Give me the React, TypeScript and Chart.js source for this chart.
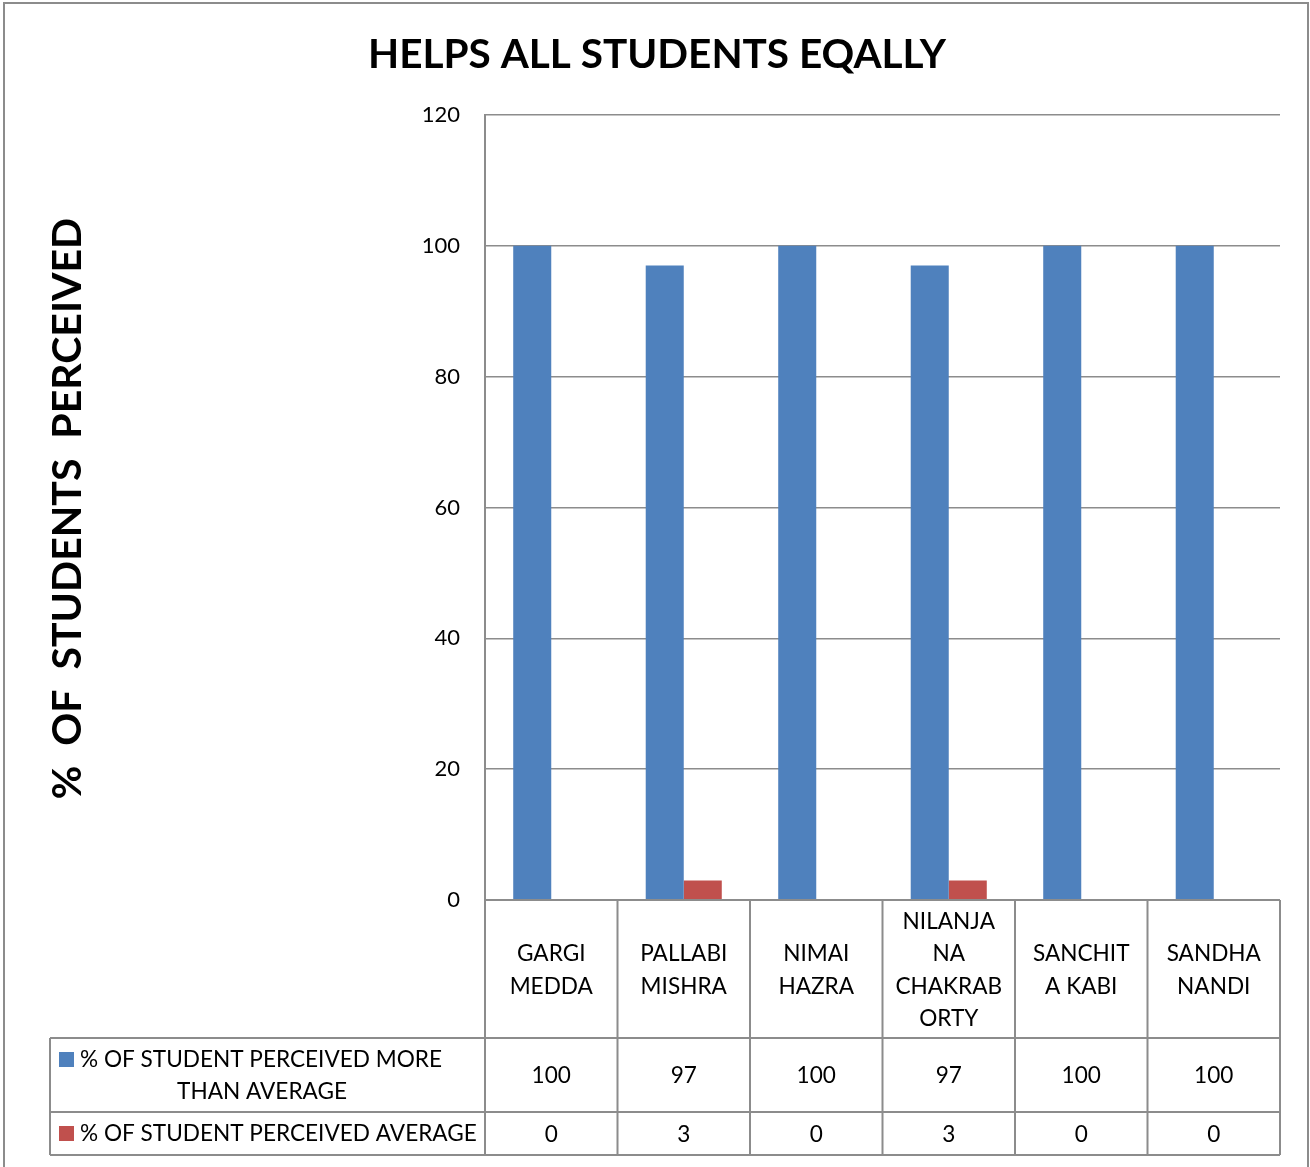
import React, { useEffect, useRef } from "react";
import { Chart, registerables } from "chart.js";

Chart.register(...registerables);

const students = [
	["GARGI", "MEDDA"],
	["PALLABI", "MISHRA"],
	["NIMAI", "HAZRA"],
	["NILANJA", "NA", "CHAKRAB", "ORTY"],
	["SANCHIT", "A KABI"],
	["SANDHA", "NANDI"],
];
const moreThanAverage = [100, 97, 100, 97, 100, 100];
const average = [0, 3, 0, 3, 0, 0];
const seriesNames = [
	["% OF STUDENT PERCEIVED MORE", "THAN AVERAGE"],
	["% OF STUDENT PERCEIVED AVERAGE"],
];
const chartTitle = "HELPS ALL STUDENTS EQALLY";
const axisTitle = "%  OF  STUDENTS  PERCEIVED";

const FONT = "Lato, 'Open Sans', sans-serif";
const LINE = "#8c8c8c";

// draws the title, rotated axis title, outer frame and the Excel-style data table
const tablePlugin = {
	id: "dataTable",
	afterDraw(chart: any) {
		const { ctx } = chart;
		const x = chart.scales.x;
		const y = chart.scales.y;
		const top = y.bottom;
		const headBottom = 1038;
		const row1Bottom = 1112;
		const row2Bottom = 1155;
		const legendLeft = 50;
		const colW = (x.right - x.left) / students.length;
		const colMid = (i: number) => x.getPixelForValue(i);

		ctx.save();

		// outer frame
		ctx.strokeStyle = "#8c8c8c";
		ctx.lineWidth = 2;
		ctx.strokeRect(4, 3, 1304, 1190);

		// title
		ctx.fillStyle = "#000";
		ctx.textAlign = "center";
		ctx.textBaseline = "middle";
		ctx.font = `bold 40.5px ${FONT}`;
		ctx.fillText(chartTitle, 657, 55);

		// y axis title
		ctx.save();
		ctx.translate(68, (y.top + y.bottom) / 2 + 1);
		ctx.rotate(-Math.PI / 2);
		ctx.font = `bold 41px ${FONT}`;
		ctx.fillText(axisTitle, 0, 0);
		ctx.restore();

		// table lines
		ctx.strokeStyle = LINE;
		ctx.lineWidth = 2;
		ctx.beginPath();
		ctx.moveTo(x.left, top);
		ctx.lineTo(x.right, top);
		ctx.moveTo(legendLeft, headBottom);
		ctx.lineTo(x.right, headBottom);
		ctx.moveTo(legendLeft, row1Bottom);
		ctx.lineTo(x.right, row1Bottom);
		ctx.moveTo(legendLeft, row2Bottom);
		ctx.lineTo(x.right, row2Bottom);
		ctx.moveTo(legendLeft, headBottom);
		ctx.lineTo(legendLeft, row2Bottom);
		for (let i = 0; i <= students.length; i++) {
			const px = x.left + i * colW;
			ctx.moveTo(px, i === 0 ? y.top : top);
			ctx.lineTo(px, row2Bottom);
		}
		ctx.stroke();

		// category labels
		ctx.fillStyle = "#000";
		ctx.font = `22.6px ${FONT}`;
		const lh = 32.5;
		students.forEach((lines, i) => {
			const cy = (top + headBottom) / 2 + 1;
			lines.forEach((t, j) => {
				ctx.fillText(t, colMid(i), cy + (j - (lines.length - 1) / 2) * lh);
			});
		});

		// values
		const rows = [moreThanAverage, average];
		const rowMid = [(headBottom + row1Bottom) / 2, (row1Bottom + row2Bottom) / 2];
		rows.forEach((vals, r) => {
			vals.forEach((v, i) => {
				ctx.fillText(String(v), colMid(i), rowMid[r] + 1);
			});
		});

		// legend cells
		const datasets = chart.data.datasets;
		ctx.fillStyle = datasets[0].backgroundColor;
		ctx.fillRect(59, 1052, 15, 15);
		ctx.fillStyle = "#000";
		ctx.textAlign = "left";
		ctx.fillText(seriesNames[0][0], 80, 1060);
		ctx.textAlign = "center";
		ctx.fillText(seriesNames[0][1], 262, 1092);

		ctx.fillStyle = datasets[1].backgroundColor;
		ctx.fillRect(59, 1126, 15, 15);
		ctx.fillStyle = "#000";
		ctx.textAlign = "left";
		ctx.fillText(seriesNames[1][0], 80, 1134);

		ctx.restore();
	},
};

const App: React.FC = () => {
	const chartRef = useRef<HTMLCanvasElement>(null);

	useEffect(() => {
		document.body.style.margin = "0";
		if (!chartRef.current) return;

		const chartConfig = {
			type: "bar",
			data: {
				labels: students.map(s => s.join(" ")),
				datasets: [
					{
						label: seriesNames[0].join(" "),
						data: moreThanAverage,
						backgroundColor: "#4f81bd",
					},
					{
						label: seriesNames[1][0],
						data: average,
						backgroundColor: "#c0504d",
					},
				],
			},
			options: {
				animation: false,
				responsive: true,
				maintainAspectRatio: false,
				devicePixelRatio: 1,
				layout: {
					padding: { left: 0, top: 115, right: 30, bottom: 267 },
				},
				plugins: {
					legend: { display: false },
					title: { display: false },
					tooltip: { enabled: false },
				},
				datasets: {
					bar: { categoryPercentage: 0.574, barPercentage: 1 },
				},
				scales: {
					x: { display: false },
					y: {
						min: 0,
						max: 120,
						ticks: {
							stepSize: 20,
							padding: 25,
							color: "#000",
							font: { family: FONT, size: 22 },
						},
						grid: { color: LINE, lineWidth: 1.5, drawTicks: false },
						border: { display: true, color: LINE, width: 2 },
						afterFit: (scale: any) => {
							scale.width = 485;
						},
					},
				},
			},
			plugins: [tablePlugin],
		};

		const chartInstance = new Chart(chartRef.current, chartConfig as any);
		return () => {
			chartInstance.destroy();
		};
	}, []);

	return (
		<div style={{ width: 1310, height: 1167, position: "relative", background: "#fff" }}>
			<canvas ref={chartRef} />
		</div>
	);
};

export default App;
